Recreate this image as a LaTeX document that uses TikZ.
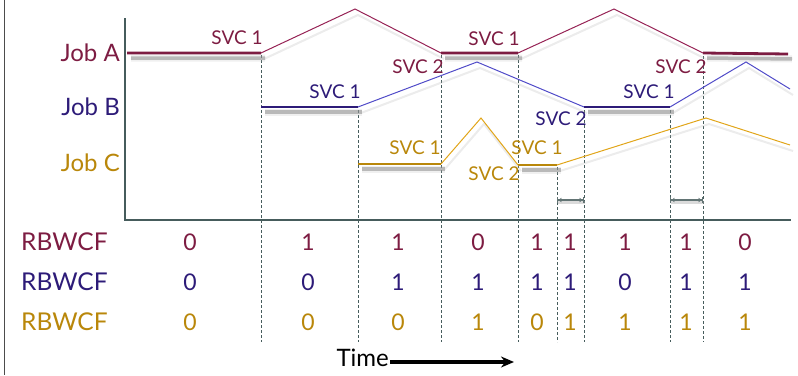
\documentclass[tikz,border=0pt]{standalone}
\usepackage{fontspec}
\setmainfont{Lato}
\usetikzlibrary{arrows.meta}
\definecolor{jobA}{RGB}{125,28,66}
\definecolor{jobAthin}{RGB}{150,35,85}
\definecolor{jobB}{RGB}{45,27,120}
\definecolor{jobBthin}{RGB}{80,75,200}
\definecolor{jobC}{RGB}{185,135,10}
\definecolor{jobCthin}{RGB}{225,165,25}
\definecolor{axisc}{RGB}{70,92,92}
\begin{document}
\begin{tikzpicture}[x=1pt,y=-1pt,
  busy/.style={line width=2.8pt},
  idle/.style={line width=1pt},
  busyshade/.style={draw=black!45, line width=3.5pt, opacity=0.55, transform canvas={shift={(4pt,-5pt)}}},
  busyhalo/.style={draw=black!30, line width=7pt, opacity=0.2, transform canvas={shift={(4pt,-5pt)}}},
  idleshade/.style={draw=black!30, line width=2pt, opacity=0.25, transform canvas={shift={(3pt,-6pt)}}},
  guide/.style={draw=axisc, densely dashed, line width=0.6pt},
  svc/.style={font=\fontsize{19}{19}\selectfont, inner sep=0pt},
  joblabel/.style={font=\fontsize{24}{24}\selectfont, inner sep=0pt, anchor=east},
  rowlabel/.style={font=\fontsize{24.5}{24}\selectfont, inner sep=0pt, anchor=west},
  val/.style={font=\fontsize{23}{23}\selectfont, inner sep=0pt},
  gap/.style={draw=axisc!85, line width=1.4pt, {Bar[width=6pt]Latex[length=3pt,width=5pt]}-{Latex[length=3pt,width=5pt]Bar[width=6pt]}},
  gapshade/.style={draw=black!35, line width=3pt, opacity=0.4, transform canvas={shift={(1pt,-2pt)}}},
]
\useasboundingbox (0,0) rectangle (798,375);

% left frame edge
\draw[black!70, line width=0.8pt] (4,0) -- (4,375);

% axes
\coordinate (ytop) at (125,18);
\coordinate (orig) at (125,220);
\coordinate (xend) at (791,220);
\draw[axisc, line width=2.4pt] (ytop) -- (orig) -- (xend);

% breakpoints on the time axis
\foreach \n/\x/\y in {t1/261/55, t2/358/110, t3/441/55, t4/518/55, t5/557/167, t6/584/110, t7/670/110, t8/703/56}{
  \coordinate (\n top) at (\x,\y);
  \coordinate (\n bot) at (\x,342);
  \draw[guide] (\n top) -- (\n bot);
}

% ---------- Job A ----------
\coordinate (a0) at (127,53);  \coordinate (a1) at (261,53);
\coordinate (ap1) at (355,9);  \coordinate (a2) at (441,53);
\coordinate (a3) at (518,53);  \coordinate (ap2) at (614,9);
\coordinate (a4) at (703,53);  \coordinate (a5) at (788,54);
% ---------- Job B ----------
\coordinate (b0) at (261,107); \coordinate (b1) at (358,107);
\coordinate (bp1) at (477,62); \coordinate (b2) at (584,107);
\coordinate (b3) at (670,107); \coordinate (bp2) at (746,62);
\coordinate (b4) at (790,89);
% ---------- Job C ----------
\coordinate (c0) at (358,164); \coordinate (c1) at (441,164);
\coordinate (cp1) at (481,118);\coordinate (c2) at (518,165);
\coordinate (c3) at (557,165); \coordinate (cp2) at (706,118);
\coordinate (c4) at (790,145);

% shadows
\foreach \s in {busyhalo, busyshade}{
  \draw[\s] (a0) -- (a1) (a2) -- (a3) (a4) -- (a5);
  \draw[\s] (b0) -- (b1) (b2) -- (b3);
  \draw[\s] (c0) -- (c1) (c2) -- (c3);
}
\draw[idleshade] (a1) -- (ap1) -- (a2) (a3) -- (ap2) -- (a4);
\draw[idleshade] (b1) -- (bp1) -- (b2) (b3) -- (bp2) -- (b4);
\draw[idleshade] (c1) -- (cp1) -- (c2) (c3) -- (cp2) -- (c4);

% service curves
\draw[idle, jobAthin] (a1) -- (ap1) -- (a2) (a3) -- (ap2) -- (a4);
\draw[idle, jobBthin] (b1) -- (bp1) -- (b2) (b3) -- (bp2) -- (b4);
\draw[idle, jobCthin] (c1) -- (cp1) -- (c2) (c3) -- (cp2) -- (c4);
\draw[busy, jobA] (a0) -- (a1) (a2) -- (a3) (a4) -- (a5);
\draw[busy, jobB] (b0) -- (b1) (b2) -- (b3);
\draw[busy, jobC] (c0) -- (c1) (c2) -- (c3);

% service labels
\node[svc, text=jobA] (sa1) at (237,38) {SVC 1};
\node[svc, text=jobA] (sa2) at (418,67) {SVC 2};
\node[svc, text=jobA] (sa3) at (494,39) {SVC 1};
\node[svc, text=jobA] (sa4) at (681,67) {SVC 2};
\node[svc, text=jobB] (sb1) at (335,92) {SVC 1};
\node[svc, text=jobB] (sb2) at (561,119) {SVC 2};
\node[svc, text=jobB] (sb3) at (649,92) {SVC 1};
\node[svc, text=jobC] (sc1) at (415,148) {SVC 1};
\node[svc, text=jobC] (sc2) at (494,174) {SVC 2};
\node[svc, text=jobC] (sc3) at (537,148) {SVC 1};

% job labels
\node[joblabel, text=jobA] (ja) at (120,53) {Job A};
\node[joblabel, text=jobB] (jb) at (120,107) {Job B};
\node[joblabel, text=jobC] (jc) at (120,163) {Job C};

% interval markers
\coordinate (g1l) at (t5top |- 0,200); \coordinate (g1r) at (t6top |- 0,200);
\coordinate (g2l) at (t7top |- 0,200); \coordinate (g2r) at (t8top |- 0,200);
\draw[gapshade] (g1l) -- (g1r) (g2l) -- (g2r);
\draw[gap] (g1l) -- (g1r);
\draw[gap] (g2l) -- (g2r);

% RBWCF rows
\node[rowlabel, text=jobA] (ra) at (21,242) {RBWCF};
\node[rowlabel, text=jobB] (rb) at (21,282) {RBWCF};
\node[rowlabel, text=jobC] (rc) at (21,322) {RBWCF};
\foreach \x/\va/\vb/\vc [count=\i] in {190/0/0/0, 308/1/0/0, 398/1/1/0, 478/0/1/1, 537/1/1/0, 570/1/1/1, 625/1/0/1, 686/1/1/1, 745/0/1/1}{
  \node[val, text=jobA] (va\i) at (\x,242) {\va};
  \node[val, text=jobB] (vb\i) at (\x,282) {\vb};
  \node[val, text=jobC] (vc\i) at (\x,322) {\vc};
}

% time arrow
\node[font=\fontsize{24}{24}\selectfont, inner sep=0pt, anchor=east] (time) at (389,358) {Time};
\coordinate (tend) at (514,362);
\coordinate (tstart) at (390,362);
\draw[black, line width=3.5pt, -{Stealth[length=13pt,width=11pt]}] (tstart) -- (tend);
\end{tikzpicture}
\end{document}
